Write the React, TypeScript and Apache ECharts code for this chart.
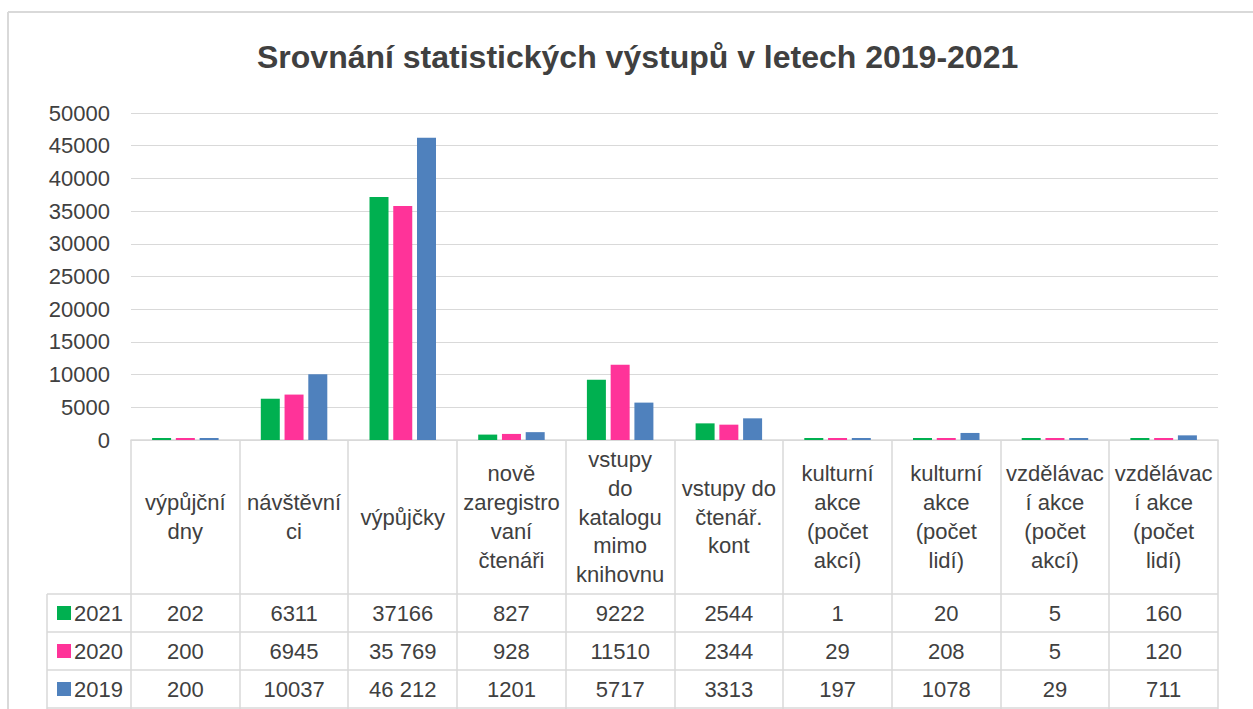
import React, { useEffect, useRef } from "react";
import * as echarts from "echarts";

const categories = [
  "výpůjční\ndny",
  "návštěvní\nci",
  "výpůjčky",
  "nově\nzaregistro\nvaní\nčtenáři",
  "vstupy\ndo\nkatalogu\nmimo\nknihovnu",
  "vstupy do\nčtenář.\nkont",
  "kulturní\nakce\n(počet\nakcí)",
  "kulturní\nakce\n(počet\nlidí)",
  "vzdělávac\ní akce\n(počet\nakcí)",
  "vzdělávac\ní akce\n(počet\nlidí)",
];

const seriesNames = ["2021", "2020", "2019"];
const values2021 = [202, 6311, 37166, 827, 9222, 2544, 1, 20, 5, 160];
const values2020 = [200, 6945, 35769, 928, 11510, 2344, 29, 208, 5, 120];
const values2019 = [200, 10037, 46212, 1201, 5717, 3313, 197, 1078, 29, 711];
const text2021 = ["202", "6311", "37166", "827", "9222", "2544", "1", "20", "5", "160"];
const text2020 = ["200", "6945", "35 769", "928", "11510", "2344", "29", "208", "5", "120"];
const text2019 = ["200", "10037", "46 212", "1201", "5717", "3313", "197", "1078", "29", "711"];
const colors = ["#00B050", "#FF3399", "#4F81BD"];

const yTicks = { min: 0, max: 50000, interval: 5000 };

const FONT = "'Liberation Sans', Arial, sans-serif";
const TEXT = "#404040";
const LINE = "#D9D9D9";

export default function App() {
  const ref = useRef<HTMLDivElement>(null);
  useEffect(() => {
    if (!ref.current) return;
    const chart = echarts.init(ref.current, undefined, { renderer: "svg" });

    const W = 1253;
    const gridLeft = 131;
    const gridRight = 1218;
    const gridTop = 113;
    const gridBottom = 440;
    const colW = (gridRight - gridLeft) / categories.length;
    const headerBottom = 594;
    const rowH = 38;
    const legendLeft = 47;

    const rowsVals = [text2021, text2020, text2019];
    const graphic: any[] = [];
    graphic.push({ type: "line", shape: { x1: 8, y1: 12, x2: W, y2: 12 }, style: { stroke: LINE, lineWidth: 2 } });
    graphic.push({ type: "line", shape: { x1: 8, y1: 12, x2: 8, y2: 709 }, style: { stroke: LINE, lineWidth: 2 } });
    for (let i = 0; i <= categories.length; i++) {
      const x = Math.round(gridLeft + i * colW);
      graphic.push({ type: "line", shape: { x1: x, y1: gridBottom, x2: x, y2: 709 }, style: { stroke: LINE, lineWidth: 1.5 } });
    }
    graphic.push({ type: "line", shape: { x1: legendLeft, y1: headerBottom, x2: legendLeft, y2: 709 }, style: { stroke: LINE, lineWidth: 1.5 } });
    for (let r = 0; r <= 3; r++) {
      const y = headerBottom + r * rowH;
      graphic.push({ type: "line", shape: { x1: legendLeft, y1: y, x2: gridRight, y2: y }, style: { stroke: LINE, lineWidth: 1.5 } });
    }
    categories.forEach((c, i) => {
      graphic.push({
        type: "text",
        x: gridLeft + (i + 0.5) * colW,
        y: (gridBottom + headerBottom) / 2,
        style: { text: c, fill: TEXT, font: `22px ${FONT}`, align: "center", verticalAlign: "middle", lineHeight: 28.7 },
      });
    });
    rowsVals.forEach((row, r) => {
      const cy = headerBottom + (r + 0.5) * rowH;
      row.forEach((t, i) => {
        graphic.push({
          type: "text",
          x: gridLeft + (i + 0.5) * colW,
          y: cy,
          style: { text: t, fill: TEXT, font: `22px ${FONT}`, align: "center", verticalAlign: "middle" },
        });
      });
      graphic.push({ type: "rect", shape: { x: 57, y: cy - 7, width: 14, height: 14 }, style: { fill: colors[r] } });
      graphic.push({
        type: "text",
        x: 74,
        y: cy,
        style: { text: seriesNames[r], fill: TEXT, font: `22px ${FONT}`, align: "left", verticalAlign: "middle" },
      });
    });

    const data = [values2021, values2020, values2019];
    chart.setOption({
      animation: false,
      backgroundColor: "#fff",
      title: {
        text: "Srovnání statistických výstupů v letech 2019-2021",
        left: 252,
        top: 36,
        textStyle: { fontFamily: FONT, fontSize: 32, fontWeight: "bold", color: TEXT },
      },
      grid: { left: gridLeft, right: W - gridRight, top: gridTop, bottom: 709 - gridBottom, containLabel: false },
      xAxis: {
        type: "category",
        data: categories,
        axisLine: { lineStyle: { color: LINE, width: 1.5 } },
        axisTick: { show: false },
        axisLabel: { show: false },
      },
      yAxis: {
        type: "value",
        min: yTicks.min,
        max: yTicks.max,
        interval: yTicks.interval,
        axisLine: { show: false },
        axisTick: { show: false },
        axisLabel: { color: TEXT, fontFamily: FONT, fontSize: 22, margin: 21, formatter: (v: number) => String(v) },
        splitLine: { lineStyle: { color: LINE, width: 1 } },
      },
      series: data.map((d, i) => ({
        type: "bar",
        name: seriesNames[i],
        data: d,
        barWidth: 19,
        barGap: "25%",
        barMinHeight: 2,
        itemStyle: { color: colors[i] },
      })),
      graphic,
    });
    return () => chart.dispose();
  }, []);
  return <div ref={ref} style={{ position: "absolute", left: 0, top: 0, width: 1253, height: 709 }} />;
}
